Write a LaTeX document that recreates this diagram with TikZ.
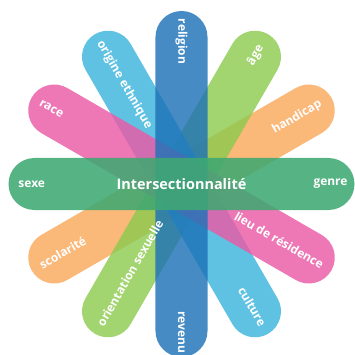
\documentclass[tikz,border=0pt]{standalone}
\usepackage{fontspec}
\setmainfont{Open Sans}
\usetikzlibrary{calc}
\definecolor{blueR}{HTML}{1E72B8}
\definecolor{cyanE}{HTML}{3DB4DC}
\definecolor{pinkR}{HTML}{EA5AA5}
\definecolor{limeA}{HTML}{8DCA4F}
\definecolor{orangeH}{HTML}{F9A85C}
\definecolor{greenS}{HTML}{3FA872}
\tikzset{
  bar/.style={rectangle, rounded corners=26bp, minimum width=346bp, minimum height=52bp,
    inner sep=0pt, fill opacity=0.82, draw=none},
  lab/.style={text=white, font=\bfseries\fontsize{12}{14}\selectfont, inner sep=0pt},
  titl/.style={text=white, font=\bfseries\fontsize{14.5}{16}\selectfont, inner sep=0pt}
}
\begin{document}
\begin{tikzpicture}[x=1bp,y=1bp]
  \useasboundingbox (0,0) rectangle (355,355);
  \coordinate (C) at (181.5,171);

  % the six bars
  \node[bar, fill=orangeH, rotate=30] (orange) at (C) {};
  \node[bar, fill=limeA, rotate=60] (lime) at (C) {};
  \node[bar, fill=cyanE, rotate=-60] (cyan) at (C) {};
  \node[bar, fill=pinkR, rotate=-30] (pink) at (C) {};
  \node[bar, fill=blueR, rotate=-90] (blue) at (C) {};
  \node[bar, fill=greenS, fill opacity=0.88] (green) at (C) {};

  % labels at both ends
  \node[lab, anchor=west] (sexe) at ($(green.west)!10bp!(green.east)$) {sexe};
  \node[lab, anchor=east] (genre) at ($(green.east)!7bp!(green.west)$) {genre};
  \node[lab, anchor=west, rotate=-90] (religion) at ($(blue.west)!8bp!(blue.east)$) {religion};
  \node[lab, anchor=east, rotate=-90] (revenu) at ($(blue.east)!4bp!(blue.west)$) {revenu};
  \node[lab, anchor=west, rotate=-30] (race) at ($(pink.west)!10bp!(pink.east)$) {race};
  \node[lab, anchor=east, rotate=-30] (lieu) at ($(pink.east)!10bp!(pink.west)$) {lieu de résidence};
  \node[lab, anchor=west, rotate=-60] (origine) at ($(cyan.west)!9bp!(cyan.east)$) {origine ethnique};
  \node[lab, anchor=east, rotate=-60] (culture) at ($(cyan.east)!10bp!(cyan.west)$) {culture};
  \node[lab, anchor=west, rotate=60] (orient) at ($(lime.west)!10bp!(lime.east)$) {orientation sexuelle};
  \node[lab, anchor=east, rotate=60] (age) at ($(lime.east)!14bp!(lime.west)$) {âge};
  \node[lab, anchor=west, rotate=30] (scol) at ($(orange.west)!10bp!(orange.east)$) {scolarité};
  \node[lab, anchor=east, rotate=30] (handicap) at ($(orange.east)!12bp!(orange.west)$) {handicap};

  \node[titl] (inter) at (C) {Intersectionnalité};
\end{tikzpicture}
\end{document}
